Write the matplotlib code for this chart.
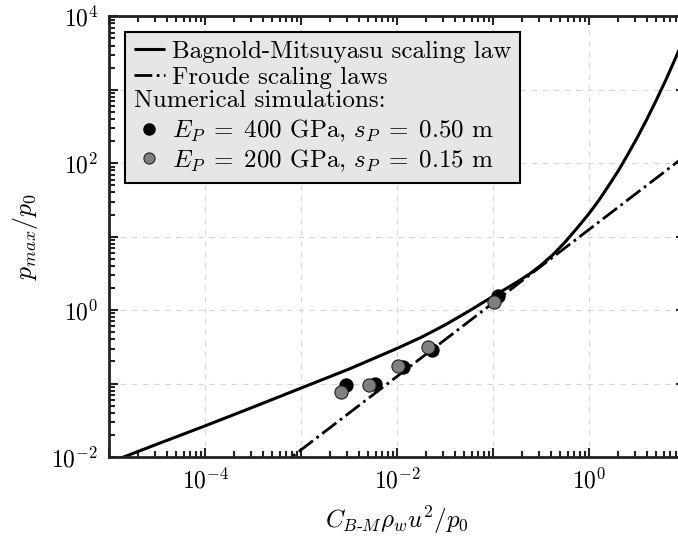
import numpy as np
import matplotlib
matplotlib.use("Agg")
import matplotlib.pyplot as plt
from matplotlib.lines import Line2D
from matplotlib.text import Text
from matplotlib.legend_handler import HandlerBase
from matplotlib.ticker import LogLocator, FuncFormatter, NullFormatter

plt.rcParams["font.family"] = "serif"
plt.rcParams["font.serif"] = ["cmr10", "DejaVu Serif"]
plt.rcParams["mathtext.fontset"] = "cm"
plt.rcParams["axes.formatter.use_mathtext"] = True
plt.rcParams["axes.unicode_minus"] = False

# Bagnold-Mitsuyasu curve, points
bm_x = [1e-5, 3.16e-5, 1e-4, 3.16e-4, 1e-3, 3.16e-3, 1e-2, 1.78e-2,
        3.16e-2, 5.62e-2, 0.1, 0.133, 0.178, 0.237, 0.316, 0.422, 0.562,
        0.750, 1.0, 1.26, 1.58, 2.0, 2.51, 3.16, 3.98, 5.01, 6.31, 7.94, 10.0]
bm_y = [8.41e-3, 1.50e-2, 2.66e-2, 4.79e-2, 8.71e-2, 0.158, 0.302, 0.427,
        0.631, 0.977, 1.55, 1.93, 2.43, 3.09, 4.12, 5.75, 8.51,
        13.2, 20.9, 31.4, 48.9, 78.5, 131.0, 224.0, 399.0, 733.0, 1390.0,
        2735.0, 5560.0]

# Froude scaling law (straight line in log-log)
froude_x = [1e-4, 10.0]
froude_y = [1.26e-3, 126.0]

# numerical simulations
sim400_x = [2.92e-3, 5.86e-3, 1.15e-2, 2.28e-2, 0.1127]
sim400_y = [0.0948, 0.0977, 0.168, 0.290, 1.545]
sim200_x = [2.57e-3, 5.10e-3, 1.02e-2, 2.07e-2, 0.1016]
sim200_y = [0.0769, 0.0948, 0.174, 0.315, 1.29]

labels = ["Bagnold-Mitsuyasu scaling law", "Froude scaling laws",
          "Numerical simulations:",
          r"$E_P\;=\;400$ GPa, $s_P\;=\;0.50$ m",
          r"$E_P\;=\;200$ GPa, $s_P\;=\;0.15$ m"]


class Header:
    def __init__(self, text):
        self.text = text


class HeaderHandler(HandlerBase):
    # draws the header text in place of a handle, so it starts at the handle edge
    def create_artists(self, legend, orig_handle, xdescent, ydescent,
                       width, height, fontsize, trans):
        t = Text(-xdescent, (height - ydescent) / 2, orig_handle.text,
                 fontsize=fontsize, ha="left", va="center", transform=trans)
        return [t]


fig = plt.figure(figsize=(6.78, 5.40), dpi=100)
ax = fig.add_axes([0.1612, 0.1537, 0.8496, 0.816])

ax.set_xscale("log")
ax.set_yscale("log")
ax.set_xlim(1e-5, 1e1)
ax.set_ylim(1e-2, 1e4)

ax.grid(True, which="major", color="#d6d6d6", linestyle=(0, (5, 5)), linewidth=0.8)
ax.set_axisbelow(True)

l1, = ax.plot(bm_x, bm_y, color="black", lw=2.2, solid_capstyle="butt")
l2, = ax.plot(froude_x, froude_y, color="black", lw=2.0, linestyle="-.")

ax.plot(sim400_x, sim400_y, "o", color="black", markersize=9.5,
        markeredgecolor="black", markeredgewidth=0.8, zorder=3)
ax.plot(sim200_x, sim200_y, "o", color="#808080", markersize=9.5,
        markeredgecolor="#222222", markeredgewidth=0.8, zorder=4)

h400 = Line2D([], [], marker="o", ls="none", color="black", markersize=8,
              markeredgecolor="black")
h200 = Line2D([], [], marker="o", ls="none", color="#808080", markersize=8,
              markeredgecolor="#222222", markeredgewidth=0.8)
hdr = Header(labels[2])

leg = ax.legend([l1, l2, hdr, h400, h200],
                [labels[0], labels[1], "", labels[3], labels[4]],
                handler_map={Header: HeaderHandler()},
                loc="upper left", bbox_to_anchor=(0.027, 0.965),
                borderaxespad=0, fontsize=18, handlelength=1.25,
                handletextpad=0.27, labelspacing=0.13, borderpad=0.35,
                fancybox=False, framealpha=1, facecolor="#e6e6e6",
                edgecolor="black")
leg.get_frame().set_linewidth(1.5)

ax.xaxis.set_major_locator(LogLocator(base=10, numticks=20))
ax.yaxis.set_major_locator(LogLocator(base=10, numticks=20))
ax.xaxis.set_minor_locator(LogLocator(base=10, subs=np.arange(2, 10), numticks=20))
ax.yaxis.set_minor_locator(LogLocator(base=10, subs=np.arange(2, 10), numticks=20))


def even_decades(v, pos):
    e = int(round(np.log10(v)))
    if e < -5 or e > 4:
        return ""
    return r"$10^{%d}$" % e if e % 2 == 0 else ""


ax.xaxis.set_major_formatter(FuncFormatter(even_decades))
ax.yaxis.set_major_formatter(FuncFormatter(even_decades))
ax.xaxis.set_minor_formatter(NullFormatter())
ax.yaxis.set_minor_formatter(NullFormatter())

ax.tick_params(which="both", direction="in", top=True, right=True,
               width=1.5, color="#222222", labelsize=17)
ax.tick_params(which="major", length=6.5, pad=8)
ax.tick_params(which="minor", length=4)
for s in ax.spines.values():
    s.set_linewidth(2.0)
    s.set_color("#222222")

ax.set_xlabel(r"$C_{B\text{-}M}\rho_w u^2/p_0$", fontsize=18, labelpad=8)
ax.set_ylabel(r"$p_{max}/p_0$", fontsize=18.5, labelpad=8)

fig.savefig("out.png", dpi=100)
